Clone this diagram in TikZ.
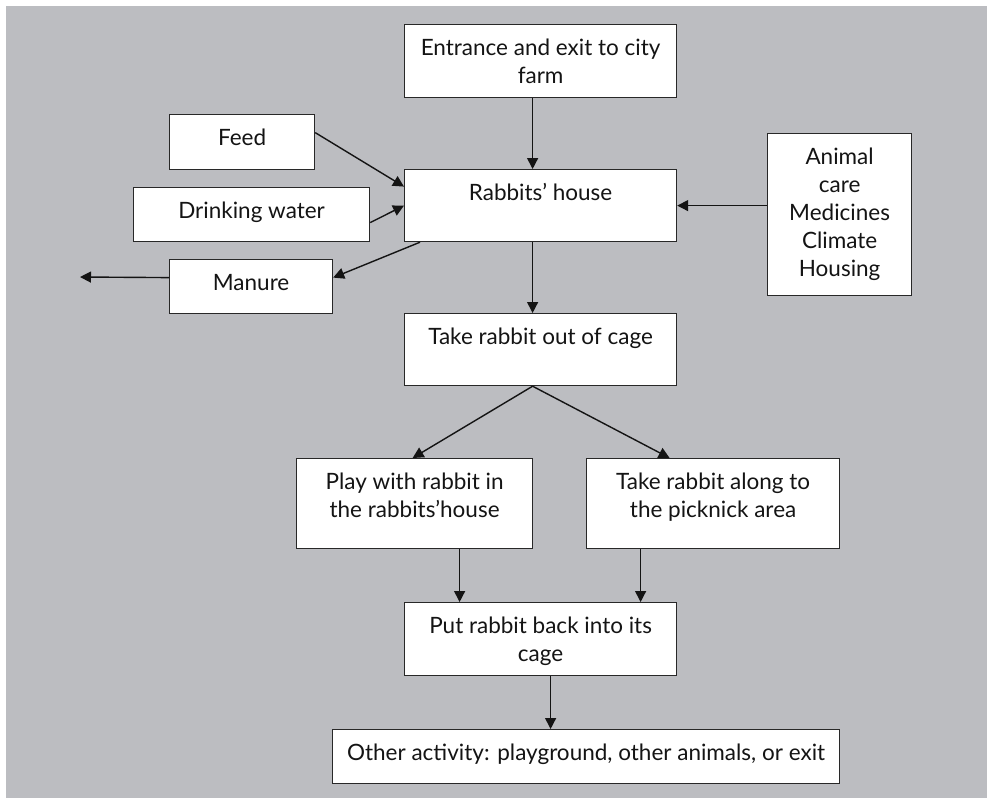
\documentclass[tikz,border=0pt]{standalone}
\usepackage{fontspec}
\setmainfont{Lato}
\usetikzlibrary{arrows.meta}
\definecolor{bggray}{RGB}{188,189,193}
\definecolor{edge}{RGB}{40,40,40}
\definecolor{ink}{RGB}{20,20,20}
\newcommand\bt[3]{\parbox[c][#2][t]{#1}{\centering\rule{0pt}{31pt}#3}}
\begin{document}
\begin{tikzpicture}[x=1pt,y=-1pt,
  box/.style={draw=edge,line width=1.2pt,fill=white,inner sep=0pt,anchor=north west,
    text=ink,font=\fontsize{22.5}{28}\selectfont},
  arr/.style={draw=ink,line width=1.4pt,-{Triangle[length=11pt,width=11pt]}}]
\useasboundingbox (0,0) rectangle (987,798);
\fill[white] (0,0) rectangle (987,798);
\fill[bggray] (6,6) rectangle (987,798);
\node[box] (ent) at (404,24) {\bt{272pt}{73pt}{Entrance and exit to city\\farm}};
\node[box] (feed) at (169,114) {\bt{145pt}{55pt}{Feed}};
\node[box] (dw) at (133,187) {\bt{236pt}{54pt}{Drinking water}};
\node[box] (man) at (169,259) {\bt{163pt}{54pt}{Manure}};
\node[box] (rh) at (404,169) {\bt{272pt}{72pt}{Rabbits’ house}};
\node[box] (care) at (767,133) {\bt{144pt}{162pt}{Animal\\care\\Medicines\\Climate\\Housing}};
\node[box] (out) at (404,313) {\bt{272pt}{72pt}{Take rabbit out of cage}};
\node[box] (play) at (296,458) {\bt{236pt}{90pt}{Play with rabbit in\\the rabbits’house}};
\node[box] (along) at (586,458) {\bt{253pt}{90pt}{Take rabbit along to\\the picknick area}};
\node[box] (back) at (404,602) {\bt{272pt}{73pt}{Put rabbit back into its\\cage}};
\node[box] (other) at (332,729) {\bt{507pt}{54pt}{Other activity: playground, other animals, or exit}};
\coordinate (outm) at (80,277);
\draw[arr] ([xshift=-8pt]ent.south) -- ([xshift=-8pt]rh.north);
\draw[arr] ([xshift=-8pt]rh.south) -- ([xshift=-8pt]out.north);
\draw[arr] ([yshift=9.5pt]feed.east) -- ([yshift=19pt]rh.west);
\draw[arr] ([yshift=-8pt]dw.east) -- (rh.west);
\draw[arr] ([xshift=16pt]rh.south west) -- ([yshift=9pt]man.east);
\draw[arr] ([yshift=9pt]man.west) -- (outm);
\draw[arr] ([yshift=9pt]care.west) -- (rh.east);
\draw[arr] ([xshift=-8pt]out.south) -- ([xshift=-2pt]play.north);
\draw[arr] ([xshift=-8pt]out.south) -- ([xshift=-43.5pt]along.north);
\draw[arr] ([xshift=45pt]play.south) -- ([xshift=-81pt]back.north);
\draw[arr] ([xshift=-72.5pt]along.south) -- ([xshift=100pt]back.north);
\draw[arr] ([xshift=10pt]back.south) -- ([xshift=-35.5pt]other.north);
\end{tikzpicture}
\end{document}
